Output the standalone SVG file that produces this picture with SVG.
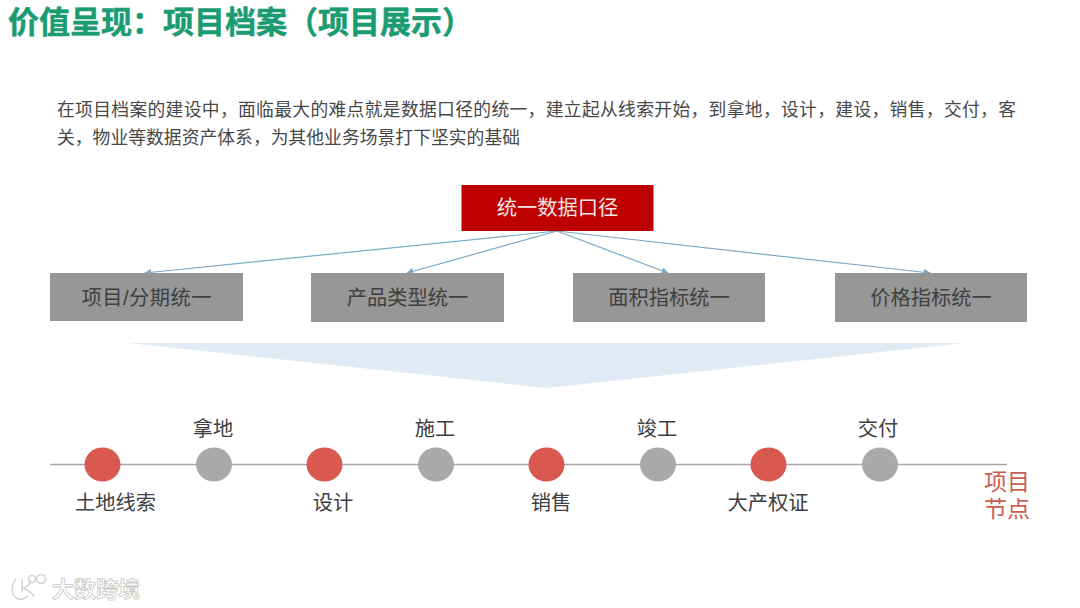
<svg xmlns="http://www.w3.org/2000/svg" width="1080" height="608" viewBox="0 0 1080 608">
<style>
text{font-family:"Liberation Sans","Noto Sans CJK SC",sans-serif}
.title{font-size:31px;font-weight:700;fill:#1a9b72;stroke:#1a9b72;stroke-width:.5}
.body{font-size:17.800px;fill:#484848}
.box{fill:#979797}
.boxt{font-size:20.300px;fill:#404040;text-anchor:middle}
.lab{font-size:20.300px;fill:#404040;text-anchor:middle}
.conn{stroke:#7aa9c9;stroke-width:1.200;fill:none;marker-end:url(#arr)}
.red{fill:#d9584f}
.gray{fill:#aba9a7}
.wm{fill:none;stroke:#d4d4d4;stroke-width:1.600}
</style>
<defs>
<marker id="arr" viewBox="0 0 10 10" refX="9" refY="5" markerWidth="8" markerHeight="7" markerUnits="userSpaceOnUse" orient="auto"><path d="M0 0L10 5L0 10Z" fill="#7aa9c9"/></marker>
</defs>
<rect width="1080" height="608" fill="#fff"/>
<text class="title" x="8" y="33">价值呈现：项目档案（项目展示）</text>
<text class="body" x="57" y="116" textLength="959">在项目档案的建设中，面临最大的难点就是数据口径的统一，建立起从线索开始，到拿地，设计，建设，销售，交付，客</text>
<text class="body" x="57" y="144" textLength="463">关，物业等数据资产体系，为其他业务场景打下坚实的基础</text>
<polygon id="funnel" points="128,343 964,343 546,388" fill="#dfeaf4"/>
<g id="connectors">
<line class="conn" x1="557" y1="231" x2="145" y2="273"/>
<line class="conn" x1="557" y1="231" x2="407" y2="273"/>
<line class="conn" x1="557" y1="231" x2="668" y2="273"/>
<line class="conn" x1="557" y1="231" x2="930" y2="273"/>
</g>
<g id="node-top"><rect x="461.500" y="185" width="192" height="46" fill="#bd0000"/><text x="557.500" y="215" text-anchor="middle" font-size="20.300" fill="#f4e4e4">统一数据口径</text></g>
<g id="node-a"><rect class="box" x="50" y="273" width="193" height="48"/><text class="boxt" x="146.500" y="305" textLength="130">项目/分期统一</text></g>
<g id="node-b"><rect class="box" x="311" y="273" width="193" height="49"/><text class="boxt" x="407.500" y="305">产品类型统一</text></g>
<g id="node-c"><rect class="box" x="573" y="273" width="192" height="49"/><text class="boxt" x="669" y="305">面积指标统一</text></g>
<g id="node-d"><rect class="box" x="835" y="273" width="192" height="49"/><text class="boxt" x="931" y="305">价格指标统一</text></g>
<g id="connectors-timeline"><line x1="50" y1="464.500" x2="1007" y2="464.500" stroke="#a6a6a6" stroke-width="1.600"/></g>
<g id="n1"><ellipse class="red" cx="102.500" cy="464.500" rx="18" ry="17"/><text class="lab" x="115.500" y="510">土地线索</text></g>
<g id="n2"><ellipse class="gray" cx="214" cy="464.500" rx="18" ry="17"/><text class="lab" x="213" y="436">拿地</text></g>
<g id="n3"><ellipse class="red" cx="324.500" cy="464.500" rx="18" ry="17"/><text class="lab" x="333" y="510">设计</text></g>
<g id="n4"><ellipse class="gray" cx="436" cy="464.500" rx="18" ry="17"/><text class="lab" x="435" y="436">施工</text></g>
<g id="n5"><ellipse class="red" cx="546.500" cy="464.500" rx="18" ry="17"/><text class="lab" x="551" y="510">销售</text></g>
<g id="n6"><ellipse class="gray" cx="658" cy="464.500" rx="18" ry="17"/><text class="lab" x="657" y="436">竣工</text></g>
<g id="n7"><ellipse class="red" cx="768.500" cy="464.500" rx="18" ry="17"/><text class="lab" x="768" y="510">大产权证</text></g>
<g id="n8"><ellipse class="gray" cx="880" cy="464.500" rx="18" ry="17"/><text class="lab" x="878" y="436">交付</text></g>
<g id="axis-label" font-size="23" fill="#c9604f" text-anchor="middle"><text x="1007" y="490">项目</text><text x="1007" y="517">节点</text></g>
<g id="watermark">
<path class="wm" d="M16 579C10 586 11 596 18 599C24 600 27 597 28 595M22 579L22 592M22 589C27 587 30 584 31 581M24 589C28 590 32 593 34 597"/>
<circle class="wm" cx="32" cy="579" r="3.500"/><circle class="wm" cx="41" cy="579" r="4.500"/>
<text x="52" y="597" font-size="22" font-weight="700" fill="#fff" stroke="#c8c8c8" stroke-width="0.800">大数跨境</text>
</g>
</svg>
